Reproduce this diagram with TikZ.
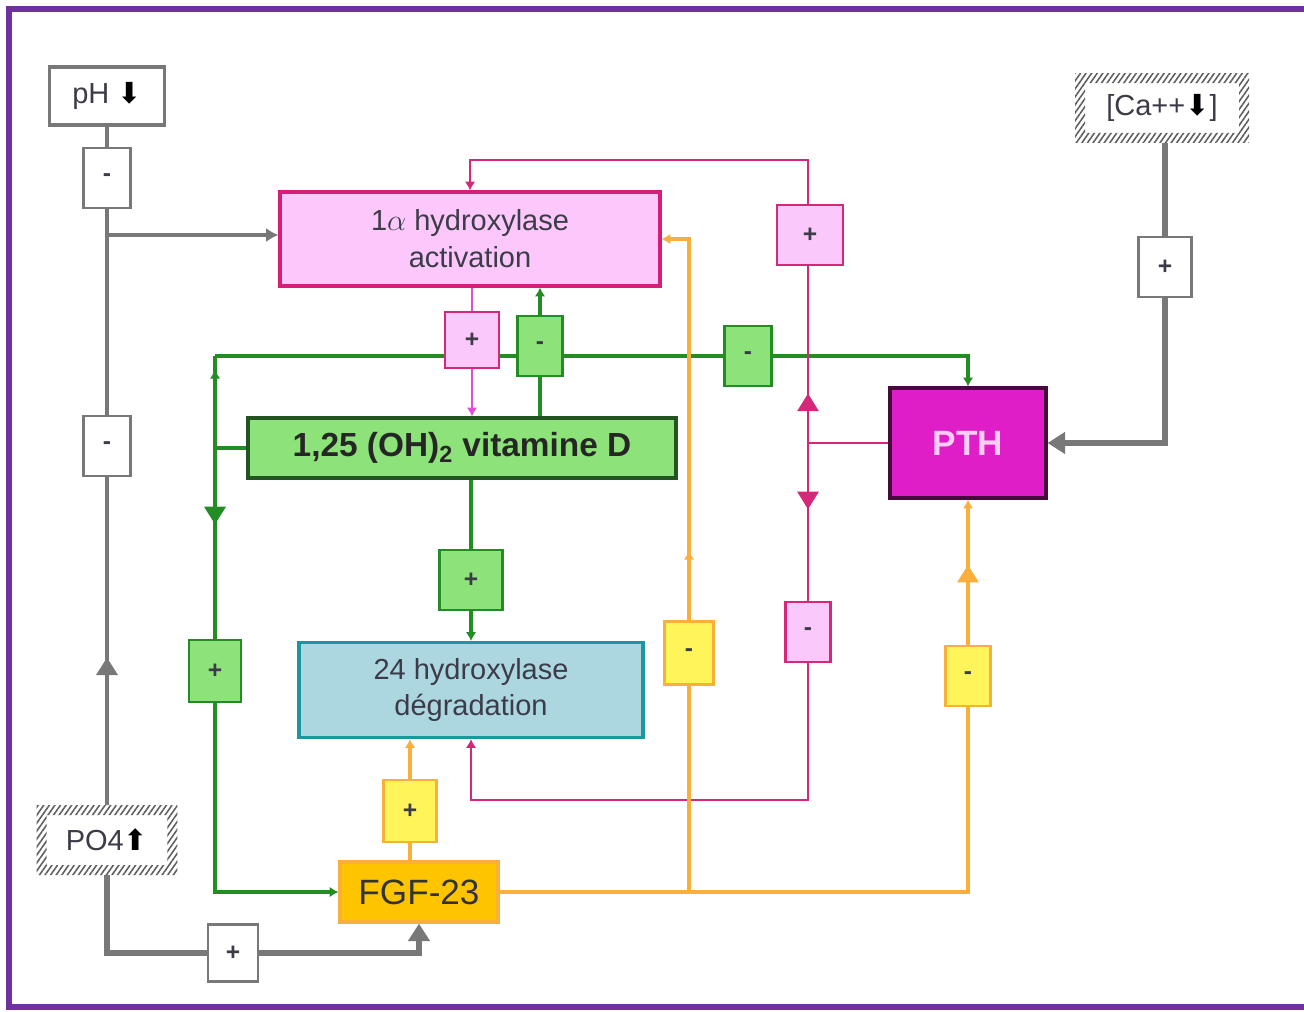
\documentclass[tikz,border=0pt]{standalone}
\usepackage{fontspec}
\setmainfont{Liberation Sans}
\newfontfamily\arrowfont{DejaVu Sans}
\usepackage{tikz}
\usetikzlibrary{arrows.meta, patterns.meta, decorations.markings, backgrounds}

\definecolor{framepurple}{RGB}{112,48,160}
\definecolor{lgray}{RGB}{120,120,120}
\definecolor{txtgray}{RGB}{60,60,72}
\definecolor{hatchgray}{RGB}{95,95,95}
\definecolor{alphafill}{RGB}{252,200,252}
\definecolor{alphaborder}{RGB}{214,30,120}
\definecolor{crimson}{RGB}{214,40,120}
\definecolor{orchid}{RGB}{222,80,215}
\definecolor{pinkfill}{RGB}{250,200,250}
\definecolor{vgreen}{RGB}{35,140,35}
\definecolor{greenfill}{RGB}{142,226,122}
\definecolor{darkgreen}{RGB}{35,85,35}
\definecolor{tealborder}{RGB}{30,150,160}
\definecolor{bluefill}{RGB}{172,215,225}
\definecolor{vorange}{RGB}{250,175,60}
\definecolor{fgffill}{RGB}{255,196,0}
\definecolor{yellowfill}{RGB}{255,245,90}
\definecolor{pthfill}{RGB}{224,30,200}
\definecolor{pthborder}{RGB}{70,10,60}
\definecolor{pthtext}{RGB}{250,205,245}

\newcommand{\blackarrow}[1]{{\arrowfont\color{black}#1}}

\tikzset{
  smalltip/.tip={Latex[width=6pt,length=5pt]},
  bigtip/.tip={Triangle[width=12pt,length=10pt]},
  box/.style={draw, rectangle, line width=1.8pt, inner sep=0pt, align=center,
    font=\fontsize{16.5}{21}\selectfont, text=txtgray},
  sign/.style={draw, rectangle, line width=1.4pt, minimum width=0.94cm,
    minimum height=1.2cm, inner sep=0pt, font=\fontsize{14}{14}\selectfont\bfseries, text=txtgray},
  graysign/.style={sign, draw=lgray, fill=white},
  pinksign/.style={sign, draw=crimson, fill=pinkfill},
  greensign/.style={sign, draw=vgreen, fill=greenfill},
  yellowsign/.style={sign, draw=vorange, fill=yellowfill},
  hatchbox/.style={rectangle, fill=white, inner sep=0pt, outer sep=0.2cm,
    font=\fontsize{16.5}{21}\selectfont, text=txtgray},
  grayline/.style={draw=lgray, line width=2pt},
  greenline/.style={draw=vgreen, line width=1.8pt},
  pinkline/.style={draw=crimson, line width=1.4pt},
  orchidline/.style={draw=orchid, line width=1.4pt},
  orangeline/.style={draw=vorange, line width=1.8pt},
  midtip/.style={postaction={decorate}, decoration={markings,
    mark=at position #1 with {\arrow{Triangle[width=12pt,length=10pt]}}}},
  smallmid/.style={postaction={decorate}, decoration={markings,
    mark=at position #1 with {\arrow{Latex[width=6pt,length=5pt]}}}},
}

\begin{document}
\begin{tikzpicture}[x=0.02cm, y=-0.02cm]
  \useasboundingbox (0,0) rectangle (1304,1011);
  % cadre
  \draw[framepurple, line width=3pt] (1304,9) -- (9,9) -- (9,1007) -- (1304,1007);

  % boites principales
  \node[box, draw=alphaborder, fill=alphafill, minimum width=7.6cm, minimum height=1.88cm]
    (alpha) at (470,239) {1$\alpha$ hydroxylase\\activation};
  \node[box, draw=darkgreen, fill=greenfill, minimum width=8.56cm, minimum height=1.2cm,
    font=\fontsize{19}{21}\selectfont\bfseries, text=black!85]
    (vitd) at (462,448) {1,25 (OH)\textsubscript{2} vitamine D};
  \node[box, draw=tealborder, fill=bluefill, minimum width=6.88cm, minimum height=1.9cm]
    (deg) at (471,690) {24 hydroxylase\\dégradation};
  \node[box, draw=vorange, fill=fgffill, minimum width=3.16cm, minimum height=1.2cm,
    font=\fontsize{20}{22}\selectfont, text=black!80]
    (fgf) at (419,892) {FGF-23};
  \node[box, draw=pthborder, fill=pthfill, minimum width=3.12cm, minimum height=2.2cm,
    font=\fontsize{20}{22}\selectfont\bfseries, text=pthtext]
    (pth) at (968,443) {PTH};

  % stimuli
  \node[box, draw=lgray, fill=white, minimum width=2.3cm, minimum height=1.16cm]
    (ph) at (107,96) {pH \blackarrow{⬇}};
  \node[hatchbox, minimum width=2.42cm, minimum height=1cm]
    (po4) at (107,840) {PO4\blackarrow{⬆}};
  \node[hatchbox, minimum width=3.08cm, minimum height=1cm]
    (ca) at (1162,108) {[Ca++\blackarrow{⬇}]};
  \foreach \n in {po4,ca}
    \fill[even odd rule, pattern={Lines[angle=55,distance=2.6pt,line width=0.9pt]},
      pattern color=hatchgray]
      (\n.north west) rectangle (\n.south east)
      ([shift={(0.2cm,-0.2cm)}]\n.north west) rectangle ([shift={(-0.2cm,0.2cm)}]\n.south east);

  % signes
  \node[graysign] (sA) at (107,178) {-};
  \node[graysign] (sB) at (107,446) {-};
  \node[graysign, minimum width=1.06cm] (sC) at (1165,267) {+};
  \node[graysign, minimum width=1cm, minimum height=1.14cm] (sD) at (233,953) {+};
  \node[pinksign, minimum width=1.08cm, minimum height=1.12cm] (sE) at (472,340) {+};
  \node[greensign, minimum width=0.9cm] (sF) at (540,346) {-};
  \node[greensign] (sG) at (748,356) {-};
  \node[pinksign, minimum width=1.32cm] (sH) at (810,235) {+};
  \node[greensign, minimum width=1.26cm] (sI) at (471,580) {+};
  \node[yellowsign, minimum width=1.06cm, minimum height=1.24cm] (sJ) at (410,811) {+};
  \node[greensign, minimum width=1.04cm, minimum height=1.24cm] (sK) at (215,671) {+};
  \node[yellowsign, minimum width=0.98cm, minimum height=1.26cm] (sL) at (689,653) {-};
  \node[pinksign, minimum width=0.9cm] (sM) at (808,632) {-};
  \node[yellowsign, minimum width=0.9cm] (sN) at (968,676) {-};

  \begin{pgfonlayer}{background}
    % gris : pH, PO4, Ca
    \coordinate (jA) at (107,235);
    \draw[grayline] (ph.south) -- (sA.north);
    \draw[grayline] (sA.south) -- (sB.north);
    \draw[grayline, -{Latex[width=8pt,length=7pt]}] (jA) -- (jA -| alpha.west);
    \draw[grayline, midtip=0.45] (po4.north) -- (sB.south);
    \draw[grayline, line width=3pt] (po4.south) |- (sD.west);
    \draw[grayline, line width=3pt, -bigtip] (sD.east) -| (fgf.south);
    \draw[grayline, line width=3pt] (sC.north |- ca.south) -- (sC.north);
    \draw[grayline, line width=3pt, -bigtip] (sC.south) |- (pth.east);
    % vert : vitamine D
    \coordinate (jV) at (215,448);
    \coordinate (jT) at (215,356);
    \draw[greenline] (vitd.west) -- (jV);
    \draw[greenline, smallmid=0.85] (jV) -- (jT);
    \draw[greenline] (jT) -- (sG.west);
    \draw[greenline, -smalltip] (sG.east) -| (pth.north);
    \draw[greenline, midtip=0.4] (jV) -- (sK.north);
    \draw[greenline, -smalltip] (sK.south) |- (fgf.west);
    \draw[greenline] (vitd.north -| sF) -- (sF.south);
    \draw[greenline, -smalltip] (sF.north) -- (sF.north |- alpha.south);
    \draw[greenline] (vitd.south -| sI) -- (sI.north);
    \draw[greenline, -smalltip] (sI.south) -- (sI.south |- deg.north);
    % rose : 1alpha et PTH
    \draw[orchidline] (alpha.south -| sE) -- (sE.north);
    \draw[orchidline, -smalltip] (sE.south) -- (sE.south |- vitd.north);
    \coordinate (jP) at (808,443);
    \coordinate (jH) at (808,160);
    \coordinate (jB) at (808,800);
    \draw[pinkline] (pth.west) -- (jP);
    \draw[pinkline, midtip=0.28] (jP) -- (jP |- sH.south);
    \draw[pinkline, -smalltip] (jP |- sH.north) -- (jH) -| (alpha.north);
    \draw[pinkline, midtip=0.42] (jP) -- (sM.north);
    \draw[pinkline, -smalltip] (sM.south) -- (jB) -| (deg.south);
    % orange : FGF-23
    \coordinate (jF) at (689,890);
    \draw[orangeline] (fgf.north -| sJ) -- (sJ.south);
    \draw[orangeline, -smalltip] (sJ.north) -- (sJ.north |- deg.south);
    \draw[orangeline] (fgf.east) -| (sN.south);
    \draw[orangeline, midtip=0.55, -smalltip] (sN.north) -- (pth.south -| sN);
    \draw[orangeline] (jF) -- (sL.south);
    \draw[orangeline, smallmid=0.17, -smalltip] (sL.north) |- (alpha.east);
  \end{pgfonlayer}
\end{tikzpicture}
\end{document}
